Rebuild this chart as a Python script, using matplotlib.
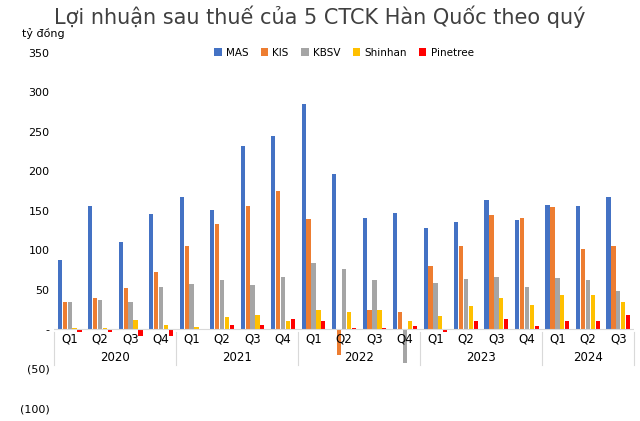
import matplotlib
matplotlib.use("Agg")
import matplotlib.pyplot as plt
import numpy as np

years = ["2020", "2021", "2022", "2023", "2024"]
quarters = ["Q1","Q2","Q3","Q4"]*4 + ["Q1","Q2","Q3"]
series_names = ["MAS", "KIS", "KBSV", "Shinhan", "Pinetree"]
colors = ["#4472C4", "#ED7D31", "#A5A5A5", "#FFC000", "#FF0000"]
MAS = [88,156,111,146, 168,151,232,244, 285,196,141,147, 128,136,164,138, 157,156,167]
KIS = [35,40,52,72, 105,133,156,175, 139,-32,24,22, 80,106,144,141, 155,102,106]
KBSV = [34,37,35,54, 57,63,56,66, 84,76,63,-43, 58,64,66,53, 65,63,49]
Shinhan = [2,2,12,5, 3,15,18,10, 25,22,25,10, 17,30,40,31, 43,43,34]
Pinetree = [-3,-4,-8,-8, 1,6,6,13, 11,2,2,4, -3,10,13,4, 10,10,18]
data = [MAS, KIS, KBSV, Shinhan, Pinetree]

fig = plt.figure(figsize=(6.4, 4.21), dpi=100)
ax = fig.add_axes([0.085, 0.03, 0.905, 0.845])
n = len(MAS)
x = np.arange(n)
w = 0.14
for i, (d, c, nm) in enumerate(zip(data, colors, series_names)):
    ax.bar(x + (i-2)*w*1.15, d, w, color=c, label=nm)

ax.set_ylim(-100, 350)
ax.set_xlim(-0.5, n-0.5)
ax.set_yticks(range(-100, 351, 50))
ax.set_yticklabels([f"({-v})" if v < 0 else ("-" if v == 0 else str(v)) for v in range(-100, 351, 50)], fontsize=8)
ax.tick_params(axis='y', length=0)
ax.set_xticks([])
for s in ax.spines.values():
    s.set_visible(False)
ax.axhline(0, color="#D9D9D9", lw=0.8)
for xi, q in zip(x, quarters):
    ax.text(xi, -12, q, ha='center', va='center', fontsize=8.5)
bounds = [0, 4, 8, 12, 16, 19]
for b in bounds:
    ax.plot([b-0.5, b-0.5], [-3, -45], color="#D9D9D9", lw=0.8, clip_on=False)
for k, y in enumerate(years):
    ax.text((bounds[k]+bounds[k+1]-1)/2, -36, y, ha='center', va='center', fontsize=8.5)

ax.legend(loc='upper center', bbox_to_anchor=(0.5, 1.04), ncol=5, frameon=False, fontsize=7.5,
          handlelength=0.7, handleheight=0.7, columnspacing=1.2, handletextpad=0.4)
fig.text(0.5, 0.96, "Lợi nhuận sau thuế của 5 CTCK Hàn Quốc theo quý", ha='center', va='center', fontsize=15, color="#404040")
fig.text(0.035, 0.92, "tỷ đồng", fontsize=8, ha='left', va='center')
fig.savefig("out.png", dpi=100)
